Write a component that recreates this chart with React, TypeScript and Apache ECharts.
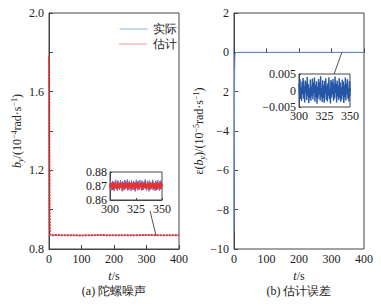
import React, { useEffect, useRef } from "react";
import * as echarts from "echarts";

const FONT = "Liberation Serif";

// main series (t in s)
const mainTimes = [0, 1, 2, 3, 4, 6, 10, 20, 50, 100, 150, 200, 250, 300, 350, 400];
const mainActual = [0.87, 0.87, 0.87, 0.87, 0.87, 0.87, 0.87, 0.87, 0.87, 0.87, 0.87, 0.87, 0.87, 0.87, 0.87, 0.87];
const mainEstimate = [1.78, 1.32, 0.98, 0.89, 0.873, 0.871, 0.87, 0.871, 0.87, 0.869, 0.871, 0.87, 0.87, 0.871, 0.87, 0.87];
const mainError = [-9.1, -4.5, -1.1, -0.2, -0.03, -0.01, 0, 0, 0, 0, 0, 0, 0, 0, 0, 0];

// inset noise (t from 300 to 350 s)
const insetActual = [
  0.8705, 0.8742, 0.8668, 0.8721, 0.869, 0.8737, 0.8674, 0.8716, 0.8663, 0.873,
  0.8695, 0.8744, 0.8681, 0.8709, 0.8666, 0.8739, 0.8699, 0.8726, 0.8672, 0.8713,
  0.8741, 0.8685, 0.8718, 0.8662, 0.8735, 0.8693, 0.8724, 0.867, 0.8743, 0.8702,
  0.8678, 0.8733, 0.8691, 0.8746, 0.8667, 0.8715, 0.8687, 0.8738, 0.8675, 0.8722,
  0.8664, 0.874, 0.8697, 0.8719, 0.8671, 0.8736, 0.8683, 0.8728, 0.8661, 0.8711,
  0.8745, 0.8689, 0.8725, 0.8669, 0.8734, 0.8701, 0.8677, 0.8742, 0.8694, 0.8717,
  0.8665, 0.8739, 0.8686, 0.8727, 0.8673, 0.8732, 0.8698, 0.8747, 0.868, 0.8714,
  0.8668, 0.8737, 0.8692, 0.8723, 0.8662, 0.8741, 0.87, 0.8729, 0.8676, 0.8718,
  0.8684, 0.8744, 0.867, 0.8731, 0.8696, 0.872, 0.8665, 0.8738, 0.8688, 0.8726,
  0.8674, 0.8743, 0.8703, 0.8715, 0.8667, 0.8735, 0.869, 0.874, 0.8679, 0.8712,
];
const insetEstimate = [
  0.8712, 0.8684, 0.8725, 0.8693, 0.8707, 0.8671, 0.8729, 0.8698, 0.8716, 0.868,
  0.8721, 0.869, 0.8703, 0.8675, 0.8731, 0.8695, 0.871, 0.8682, 0.8719, 0.8701,
  0.8688, 0.8727, 0.8692, 0.8714, 0.8669, 0.8723, 0.8697, 0.8708, 0.8679, 0.873,
  0.8694, 0.8717, 0.8686, 0.8711, 0.8673, 0.8726, 0.8699, 0.8705, 0.8683, 0.872,
  0.8691, 0.8728, 0.8677, 0.8713, 0.8696, 0.8722, 0.8687, 0.8709, 0.867, 0.8724,
  0.87, 0.8715, 0.8681, 0.8732, 0.8693, 0.8706, 0.8676, 0.8718, 0.8689, 0.8727,
  0.8698, 0.871, 0.8672, 0.8721, 0.8695, 0.8713, 0.8685, 0.8729, 0.8691, 0.8704,
  0.8678, 0.8719, 0.87, 0.8725, 0.8683, 0.8712, 0.8674, 0.8723, 0.8696, 0.8708,
  0.8687, 0.8731, 0.8692, 0.8716, 0.8679, 0.872, 0.8697, 0.8706, 0.8671, 0.8726,
  0.8694, 0.8714, 0.8682, 0.8722, 0.8699, 0.8709, 0.8676, 0.8728, 0.869, 0.8711,
];
const insetError = [
  0.0021, -0.0018, 0.0034, -0.0026, 0.0009, -0.0032, 0.0027, -0.0011, 0.0038, -0.0024,
  0.0015, -0.0036, 0.003, -0.0007, 0.0024, -0.0029, 0.0041, -0.0015, 0.0019, -0.0038,
  0.0006, -0.0022, 0.0033, -0.0031, 0.0012, -0.0017, 0.0036, -0.0027, 0.0023, -0.0009,
  0.0039, -0.0034, 0.0017, -0.002, 0.0028, -0.004, 0.0011, -0.0025, 0.0035, -0.0013,
  0.0025, -0.003, 0.0043, -0.0019, 0.0008, -0.0035, 0.0031, -0.0023, 0.0016, -0.0037,
  0.0029, -0.001, 0.0037, -0.0028, 0.0014, -0.0033, 0.0022, -0.0016, 0.004, -0.0026,
  0.0005, -0.0039, 0.0032, -0.0021, 0.0026, -0.0012, 0.0035, -0.0031, 0.0018, -0.0024,
  0.0042, -0.0008, 0.002, -0.0036, 0.003, -0.0018, 0.0013, -0.0029, 0.0038, -0.0022,
  0.0024, -0.0034, 0.001, -0.0027, 0.0033, -0.0014, 0.0027, -0.0038, 0.0016, -0.002,
  0.0039, -0.003, 0.0021, -0.0011, 0.0034, -0.0025, 0.0007, -0.0033, 0.0029, -0.0017,
];
const insetStart = 300;
const insetEnd = 350;

// connector lines (data coordinates of the main plots)
const leftConnector = [[311, 0.993], [329, 0.87]];
const rightConnector = [[308, -1.1], [332, 0]];

// tick labels
const rightYLabels: Record<string, string> = { "2": "2", "0": "0", "-2": "2", "-4": "−4", "-6": "−6", "-8": "−8", "-10": "−10" };
const insetErrLabels: Record<string, string> = { "0.005": "0.005", "0": "0", "-0.005": "−0.005" };

const BLUE = "#6b98de";
const RED = "#e8302c";
const DARKBLUE = "#2555a6";
const AXIS = "#444";

const richName = {
  n: { fontFamily: FONT, fontSize: 12, color: "#222", lineHeight: 14 },
  i: { fontFamily: FONT, fontSize: 12, fontStyle: "italic", color: "#222", lineHeight: 14 },
  s: { fontFamily: FONT, fontSize: 8, fontStyle: "italic", color: "#222", verticalAlign: "bottom" },
  p: { fontFamily: FONT, fontSize: 8, color: "#222", verticalAlign: "top" },
};

function pairs(xs: number[], ys: number[]) {
  return xs.map((x, i) => [x, ys[i]]);
}
function insetPairs(ys: number[]) {
  const n = ys.length;
  return ys.map((y, i) => [insetStart + ((insetEnd - insetStart) * i) / (n - 1), y]);
}

const mainXAxis = (gridIndex: number) => ({
  type: "value",
  gridIndex,
  min: 0,
  max: 400,
  interval: 100,
  axisLine: { lineStyle: { color: AXIS, width: 1 } },
  axisTick: { inside: true, length: 4, lineStyle: { color: AXIS } },
  splitLine: { show: false },
  axisLabel: { fontFamily: FONT, fontSize: 12, color: "#222", margin: 4 },
  name: "{i|t}{n|/s}",
  nameLocation: "middle",
  nameGap: 19,
  nameTextStyle: { rich: richName },
});

const insetAxisCommon = {
  axisLine: { lineStyle: { color: AXIS, width: 1 } },
  axisTick: { inside: true, length: 2, lineStyle: { color: AXIS } },
  splitLine: { show: false },
};

export default function App() {
  const ref = useRef<HTMLDivElement>(null);
  useEffect(() => {
    if (!ref.current) return;
    const chart = echarts.init(ref.current, undefined, { renderer: "svg" });
    const option: any = {
      animation: false,
      backgroundColor: "#fff",
      textStyle: { fontFamily: FONT },
      legend: {
        orient: "vertical",
        left: 114,
        top: 18,
        itemWidth: 28,
        itemHeight: 10,
        itemGap: 3,
        textStyle: { fontFamily: FONT, fontSize: 12, color: "#222" },
        data: [
          { name: "实际", itemStyle: { opacity: 0 }, lineStyle: { width: 1, color: "#8fb0e6" } },
          { name: "估计", itemStyle: { opacity: 0 }, lineStyle: { width: 1, type: "dotted", color: RED } },
        ],
      },
      grid: [
        { left: 49, top: 13, width: 130, height: 236, show: true, borderColor: AXIS, borderWidth: 1 },
        { left: 234, top: 13, width: 130, height: 236, show: true, borderColor: AXIS, borderWidth: 1 },
        { left: 110, top: 172, width: 52, height: 28, show: true, borderColor: AXIS, borderWidth: 1, backgroundColor: "#fff" },
        { left: 299, top: 74, width: 51, height: 33, show: true, borderColor: AXIS, borderWidth: 1, backgroundColor: "#fff" },
      ],
      xAxis: [
        mainXAxis(0),
        mainXAxis(1),
        {
          type: "value", gridIndex: 2, min: 300, max: 350, interval: 25, ...insetAxisCommon,
          axisLabel: { fontFamily: FONT, fontSize: 12, color: "#222", margin: 3 },
        },
        {
          type: "value", gridIndex: 3, min: 300, max: 350, interval: 25, ...insetAxisCommon,
          axisLabel: { fontFamily: FONT, fontSize: 12, color: "#222", margin: 3 },
        },
      ],
      yAxis: [
        {
          type: "value", gridIndex: 0, min: 0.8, max: 2.0, interval: 0.2,
          axisLine: { lineStyle: { color: AXIS } },
          axisTick: { inside: true, length: 4, lineStyle: { color: AXIS } },
          splitLine: { show: false },
          axisLabel: {
            fontFamily: FONT, fontSize: 12, color: "#222", margin: 5,
            formatter: (v: number) => (Math.round(v * 10) % 4 === 0 ? v.toFixed(1) : ""),
          },
          name: "{i|b}{s|y}{n|/(10}{p|−4}{n|rad·s}{p|−1}{n|)}",
          nameLocation: "middle",
          nameGap: 25,
          nameTextStyle: { rich: richName },
        },
        {
          type: "value", gridIndex: 1, min: -10, max: 2, interval: 2,
          axisLine: { lineStyle: { color: AXIS } },
          axisTick: { inside: true, length: 4, lineStyle: { color: AXIS } },
          splitLine: { show: false },
          axisLabel: {
            fontFamily: FONT, fontSize: 12, color: "#222", margin: 5,
            formatter: (v: number) => rightYLabels[String(v)] ?? String(v),
          },
          name: "{n|ε(}{i|b}{s|y}{n|)/(10}{p|−5}{n|rad·s}{p|−1}{n|)}",
          nameLocation: "middle",
          nameGap: 26,
          nameTextStyle: { rich: richName },
        },
        {
          type: "value", gridIndex: 2, min: 0.86, max: 0.88, interval: 0.01, ...insetAxisCommon,
          axisLabel: { fontFamily: FONT, fontSize: 12, color: "#222", margin: 3, formatter: (v: number) => v.toFixed(2) },
        },
        {
          type: "value", gridIndex: 3, min: -0.005, max: 0.005, interval: 0.005, ...insetAxisCommon,
          axisLabel: { fontFamily: FONT, fontSize: 12, color: "#222", margin: 3, formatter: (v: number) => insetErrLabels[String(v)] ?? String(v) },
        },
      ],
      series: [
        {
          name: "实际", type: "line", xAxisIndex: 0, yAxisIndex: 0, symbol: "none",
          data: pairs(mainTimes, mainActual), lineStyle: { color: BLUE, width: 1 }, itemStyle: { color: BLUE }, z: 2,
        },
        {
          name: "估计", type: "line", xAxisIndex: 0, yAxisIndex: 0, symbol: "none",
          data: pairs(mainTimes, mainEstimate), lineStyle: { color: RED, width: 2, type: [2, 1] }, itemStyle: { color: RED }, z: 3,
        },
        {
          name: "conn-a", type: "line", xAxisIndex: 0, yAxisIndex: 0, symbol: "none", silent: true,
          data: leftConnector, lineStyle: { color: "#222", width: 0.8 }, z: 4,
        },
        {
          name: "err", type: "line", xAxisIndex: 1, yAxisIndex: 1, symbol: "none",
          data: pairs(mainTimes, mainError), lineStyle: { color: BLUE, width: 1 }, z: 2,
        },
        {
          name: "conn-b", type: "line", xAxisIndex: 1, yAxisIndex: 1, symbol: "none", silent: true,
          data: rightConnector, lineStyle: { color: "#222", width: 0.8 }, z: 4,
        },
        {
          name: "inset-actual", type: "line", xAxisIndex: 2, yAxisIndex: 2, symbol: "none",
          data: insetPairs(insetActual), lineStyle: { color: "#6a6fd0", width: 1 }, z: 5,
        },
        {
          name: "inset-est", type: "line", xAxisIndex: 2, yAxisIndex: 2, symbol: "none",
          data: insetPairs(insetEstimate), lineStyle: { color: RED, width: 1.6 }, z: 6,
        },
        {
          name: "inset-err", type: "line", xAxisIndex: 3, yAxisIndex: 3, symbol: "none",
          data: insetPairs(insetError), lineStyle: { color: DARKBLUE, width: 1.4 }, z: 5,
        },
      ],
      graphic: [
        {
          type: "text", x: 114, y: 291,
          style: { text: "(a) 陀螺噪声", font: `12px ${FONT}`, fill: "#222", align: "center", verticalAlign: "middle" },
        },
        {
          type: "text", x: 299, y: 291,
          style: { text: "(b) 估计误差", font: `12px ${FONT}`, fill: "#222", align: "center", verticalAlign: "middle" },
        },
      ],
    };
    chart.setOption(option);
    return () => chart.dispose();
  }, []);
  return <div ref={ref} style={{ width: 381, height: 306, position: "absolute", left: 0, top: 0 }} />;
}
